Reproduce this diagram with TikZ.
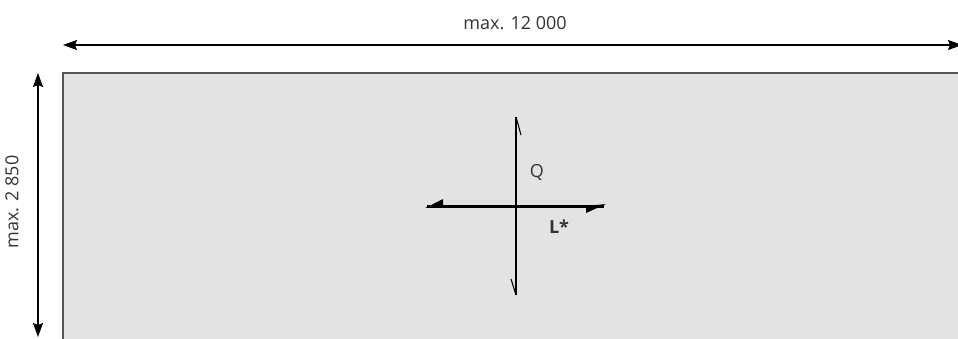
\documentclass[tikz,border=0pt]{standalone}
\usepackage{fontspec}
\setmainfont{Open Sans}
\usetikzlibrary{arrows.meta}
\definecolor{panel}{HTML}{E3E3E3}
\definecolor{edge}{HTML}{555555}
\definecolor{txt}{HTML}{333333}
\tikzset{
  dimarrow/.style={line width=1.2pt, {Stealth[length=14pt,width=10pt,inset=2pt]}-{Stealth[length=14pt,width=10pt,inset=2pt]}},
  lbl/.style={font=\fontsize{18}{20}\selectfont, text=txt, inner sep=0pt},
}
\begin{document}
\begin{tikzpicture}[x=1pt,y=-1pt]
\useasboundingbox (0,0) rectangle (958,338);
\clip (0,0) rectangle (958,338);
% panel
\fill[panel] (63,73) rectangle (970,350);
\draw[edge, line width=1.5pt] (63,350) -- (63,73) -- (970,73);
% dimension arrows
\coordinate (hl) at (63,45);
\coordinate (hr) at (962,45);
\draw[dimarrow] (hl) -- (hr);
\coordinate (vt) at (38,73);
\coordinate (vb) at (38,337);
\draw[dimarrow] (vt) -- (vb);
\node[lbl] (w) at (515,23) {max. 12 000};
\node[lbl, rotate=90] (h) at (12,202) {max. 2 850};
% Q direction
\coordinate (qt) at (516,117);
\coordinate (qb) at (516,295);
\draw[line width=1.1pt, black] (qt) -- (qb);
\draw[line width=1.1pt, black] (qt) -- (521,135);
\draw[line width=1.1pt, black] (qb) -- (511,279);
% L direction
\coordinate (ll) at (427,206);
\coordinate (lr) at (604,206);
\draw[line width=3pt, black] (ll) -- (lr);
\fill[black] (425,208) -- (443,199) -- (443,206) -- cycle;
\fill[black] (606,204) -- (586,213) -- (586,206) -- cycle;
\node[lbl] (q) at (537,172) {Q};
\node[lbl, font=\fontsize{18}{20}\selectfont\bfseries] (l) at (559,227) {L*};
\end{tikzpicture}
\end{document}
